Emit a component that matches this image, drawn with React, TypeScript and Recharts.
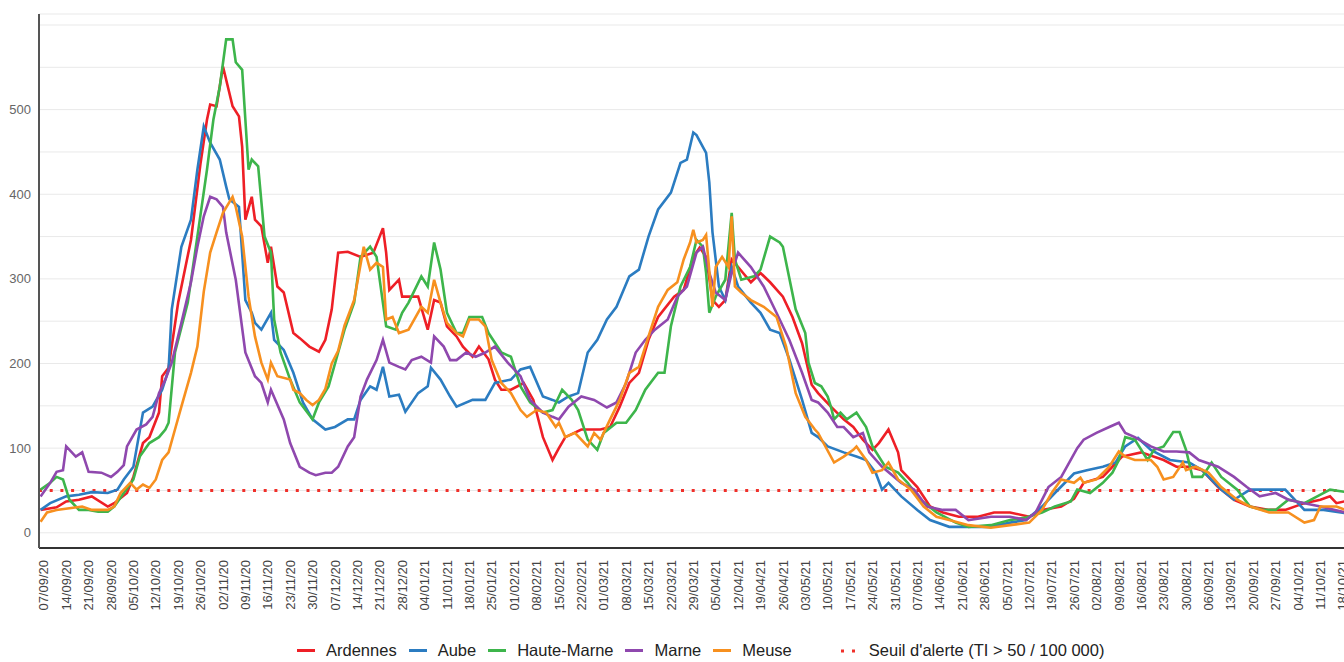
import React from 'react';
import { LineChart, Line, XAxis, YAxis, CartesianGrid, ReferenceLine } from 'recharts';

// Week labels (Mondays), one every 7 days starting 07/09/20 (day 0)
const weekLabels = [
  '07/09/20','14/09/20','21/09/20','28/09/20','05/10/20','12/10/20','19/10/20','26/10/20','02/11/20','09/11/20',
  '16/11/20','23/11/20','30/11/20','07/12/20','14/12/20','21/12/20','28/12/20','04/01/21','11/01/21','18/01/21',
  '25/01/21','01/02/21','08/02/21','15/02/21','22/02/21','01/03/21','08/03/21','15/03/21','22/03/21','29/03/21',
  '05/04/21','12/04/21','19/04/21','26/04/21','03/05/21','10/05/21','17/05/21','24/05/21','31/05/21','07/06/21',
  '14/06/21','21/06/21','28/06/21','05/07/21','12/07/21','19/07/21','26/07/21','02/08/21','09/08/21','16/08/21',
  '23/08/21','30/08/21','06/09/21','13/09/21','20/09/21','27/09/21','04/10/21','11/10/21','18/10/21',
];

const yTicks = [0, 50, 100, 150, 200, 250, 300, 350, 400, 450, 500, 550, 600];
const alertThreshold = 50;

// [day offset from 07/09/20, incidence rate per 100 000]
const ardennes: [number, number][] = [
  [-1,27],[4,30],[7,37],[11,39],[15,43],[20,31],[22,35],[26,47],[28,66],[31,106],[33,113],[36,142],[37,185],[39,195],
  [42,272],[46,346],[49,437],[51,488],[52,506],[54,504],[56,551],[59,504],[61,492],[62,456],[63,370],[65,397],[66,370],
  [68,362],[70,319],[71,338],[73,291],[75,284],[78,236],[80,230],[83,220],[86,214],[88,228],[90,264],[92,331],[95,332],
  [99,326],[103,331],[106,360],[107,331],[108,287],[111,299],[112,279],[117,279],[120,240],[122,275],[124,272],[126,244],
  [129,232],[131,220],[134,208],[136,220],[139,205],[141,181],[143,169],[146,169],[150,177],[153,157],[156,113],[159,86],
  [161,100],[163,113],[168,122],[174,122],[177,125],[180,149],[183,177],[186,189],[189,228],[192,255],[197,279],[200,287],
  [203,326],[205,337],[207,326],[209,275],[211,267],[213,275],[215,323],[217,314],[221,296],[224,307],[227,296],[231,279],
  [234,255],[237,224],[240,175],[242,165],[246,149],[250,134],[253,125],[256,110],[259,98],[261,106],[264,122],[267,95],
  [268,74],[273,54],[277,31],[281,24],[286,19],[292,19],[297,24],[302,24],[308,19],[312,27],[318,31],[322,40],[325,59],
  [331,66],[334,78],[337,90],[343,95],[350,86],[354,78],[358,78],[362,74],[367,54],[372,39],[377,31],[383,27],[388,27],
  [394,35],[399,39],[402,43],[404,35],[409,39],
];

const aube: [number, number][] = [
  [-1,27],[2,35],[7,43],[11,45],[15,48],[20,47],[23,51],[25,63],[28,78],[31,142],[34,149],[37,169],[39,193],[40,264],
  [43,338],[46,370],[48,429],[50,480],[52,461],[55,441],[57,409],[58,394],[61,385],[63,275],[65,260],[66,248],[68,240],
  [71,260],[72,228],[75,216],[78,189],[81,154],[84,134],[88,122],[91,125],[95,134],[97,134],[99,157],[102,173],[104,169],
  [106,196],[108,161],[111,163],[113,143],[117,165],[120,173],[121,195],[124,181],[127,161],[129,149],[134,157],[138,157],
  [141,177],[146,181],[149,193],[152,196],[156,161],[159,157],[161,154],[164,161],[167,165],[170,213],[173,228],[176,252],
  [179,267],[183,303],[186,311],[189,350],[192,382],[196,402],[199,437],[201,441],[203,473],[204,470],[207,449],[208,414],
  [209,355],[211,291],[213,275],[215,314],[217,291],[221,272],[224,260],[227,240],[230,236],[233,205],[237,157],[240,118],
  [242,113],[245,102],[250,95],[254,90],[257,86],[260,71],[262,51],[264,59],[268,43],[273,27],[277,15],[283,7],[289,7],
  [296,7],[302,12],[307,15],[312,31],[316,47],[322,70],[326,74],[331,78],[335,83],[338,102],[342,112],[346,98],[352,86],
  [358,83],[362,74],[368,51],[372,39],[377,51],[383,51],[388,51],[394,27],[400,27],[409,22],
];

const hauteMarne: [number, number][] = [
  [-1,51],[2,59],[4,66],[6,63],[8,39],[11,27],[14,27],[17,25],[20,25],[22,31],[25,47],[28,63],[30,90],[33,106],[36,113],
  [38,122],[39,130],[41,213],[45,272],[48,350],[51,429],[53,488],[55,527],[57,583],[59,583],[60,556],[62,547],[63,488],
  [64,429],[65,441],[67,433],[69,350],[71,331],[72,252],[74,213],[77,181],[80,154],[84,134],[86,154],[89,173],[92,213],
  [94,240],[97,272],[99,326],[102,338],[104,326],[107,244],[110,240],[112,260],[114,272],[118,303],[120,291],[122,343],
  [124,311],[126,260],[129,236],[131,236],[133,255],[137,255],[139,236],[143,213],[146,208],[149,173],[152,154],[156,142],
  [159,145],[162,169],[165,157],[167,145],[170,110],[173,98],[175,118],[179,130],[182,130],[185,145],[188,169],[192,189],
  [194,189],[196,244],[199,291],[202,314],[204,346],[206,338],[207,307],[208,260],[210,279],[213,299],[215,378],[216,323],
  [218,299],[222,303],[224,311],[227,350],[230,343],[231,338],[235,264],[238,236],[239,201],[241,177],[243,173],[245,161],
  [246,149],[247,134],[249,142],[251,134],[254,142],[257,125],[259,102],[263,78],[267,71],[270,59],[274,39],[279,24],
  [285,12],[289,7],[296,9],[302,15],[307,18],[312,24],[316,31],[321,37],[323,51],[327,47],[331,59],[334,71],[336,86],
  [338,113],[341,110],[345,86],[347,98],[350,102],[353,119],[355,119],[357,98],[359,66],[362,66],[365,83],[368,66],
  [373,51],[377,31],[381,27],[385,27],[389,39],[394,35],[398,43],[402,51],[409,47],
];

const marne: [number, number][] = [
  [-1,43],[2,59],[4,72],[6,74],[7,102],[10,90],[12,95],[14,72],[18,71],[21,66],[23,72],[25,80],[26,102],[29,122],[32,128],
  [34,137],[36,165],[38,181],[40,201],[43,248],[46,296],[48,338],[50,374],[52,397],[54,394],[56,385],[57,355],[60,299],
  [63,213],[66,185],[68,177],[70,154],[71,169],[75,134],[77,106],[80,78],[83,71],[85,68],[88,71],[90,71],[92,78],[95,102],
  [97,113],[99,161],[101,181],[104,204],[106,228],[108,201],[111,196],[113,193],[115,204],[118,208],[121,201],[122,232],
  [125,220],[127,204],[129,204],[132,213],[135,208],[138,213],[141,220],[145,201],[149,185],[152,157],[156,142],[159,137],
  [161,134],[164,149],[168,161],[172,157],[176,148],[179,154],[182,177],[185,213],[188,228],[191,240],[195,252],[198,279],
  [201,291],[204,331],[206,338],[208,307],[210,284],[213,275],[215,307],[217,331],[221,314],[225,291],[229,260],[233,228],
  [237,189],[240,157],[242,154],[245,142],[248,125],[250,125],[253,113],[256,118],[258,95],[262,78],[268,59],[272,51],
  [276,31],[281,27],[285,27],[289,15],[296,19],[302,19],[307,15],[310,24],[314,54],[318,66],[323,100],[325,110],[329,118],
  [333,125],[336,130],[338,118],[341,113],[346,102],[350,96],[354,96],[358,95],[361,86],[367,78],[372,66],[376,54],
  [380,43],[385,47],[389,39],[394,35],[399,31],[409,22],
];

const meuse: [number, number][] = [
  [-1,13],[1,24],[4,27],[8,29],[12,31],[15,27],[20,27],[22,31],[24,47],[27,59],[29,51],[31,57],[33,53],[35,63],[37,86],
  [39,95],[41,122],[43,149],[46,189],[48,220],[50,285],[52,331],[54,355],[56,378],[59,397],[60,385],[62,350],[64,279],
  [66,232],[68,201],[70,181],[71,201],[73,185],[77,181],[78,169],[80,165],[82,157],[84,151],[86,157],[88,170],[90,200],
  [92,215],[94,245],[97,275],[100,338],[102,311],[104,319],[106,314],[107,252],[109,255],[111,236],[114,240],[118,267],
  [120,260],[122,299],[124,272],[126,248],[129,236],[131,232],[133,252],[136,252],[138,244],[140,204],[143,177],[146,165],
  [149,145],[151,137],[154,145],[157,142],[160,125],[161,130],[163,113],[166,118],[170,102],[172,118],[174,110],[177,134],
  [180,157],[183,189],[186,196],[189,232],[192,267],[195,287],[198,296],[200,323],[202,343],[203,358],[204,343],[206,346],
  [207,352],[209,267],[210,314],[212,326],[214,314],[215,374],[216,291],[218,284],[221,275],[225,267],[229,255],[232,220],
  [235,165],[238,137],[241,122],[242,118],[247,83],[250,90],[253,98],[254,102],[257,86],[259,71],[262,74],[264,83],
  [267,63],[271,51],[275,31],[279,19],[283,15],[289,9],[296,6],[302,9],[308,12],[312,27],[315,47],[318,63],[322,59],
  [324,65],[325,59],[329,63],[333,78],[336,96],[338,90],[341,86],[346,86],[348,78],[350,63],[353,66],[356,83],[357,74],
  [360,78],[364,71],[368,54],[373,39],[377,31],[383,24],[389,24],[394,12],[397,15],[399,31],[404,31],[409,24],
];

const series = [
  { name: 'Ardennes', color: '#ee1f26', points: ardennes },
  { name: 'Aube', color: '#2b7cc1', points: aube },
  { name: 'Haute-Marne', color: '#3db54b', points: hauteMarne },
  { name: 'Marne', color: '#8f48ae', points: marne },
  { name: 'Meuse', color: '#f7901f', points: meuse },
];

const FONT = '"Liberation Sans", Arial, sans-serif';

const XTick = (props: any) => {
  const { x, y, payload } = props;
  const idx = Math.round(payload.value / 7);
  const label = weekLabels[idx] ?? '';
  const ty = y + 4;
  return (
    <text
      x={x}
      y={ty}
      transform={`rotate(-90 ${x} ${ty})`}
      textAnchor="end"
      dy="0.36em"
      fontSize={13}
      fill="#444"
      fontFamily={FONT}
    >
      {label}
    </text>
  );
};

export default function App() {
  const tickDays = weekLabels.map((_, i) => i * 7);
  return (
    <div
      style={{
        position: 'absolute',
        left: 0,
        top: 0,
        width: 1344,
        height: 662,
        overflow: 'hidden',
        background: '#fff',
        fontFamily: FONT,
      }}
    >
      <LineChart width={1372} height={620} margin={{ top: 14, right: 10, left: 0, bottom: 0 }}>
        <CartesianGrid horizontal vertical={false} stroke="#e9e9e9" strokeWidth={1} />
        <XAxis
          type="number"
          dataKey="d"
          domain={[-1.5, 412]}
          ticks={tickDays}
          interval={0}
          allowDataOverflow
          height={72}
          tick={<XTick />}
          tickLine={false}
          axisLine={{ stroke: '#333', strokeWidth: 2 }}
        />
        <YAxis
          type="number"
          domain={[-18, 613]}
          ticks={yTicks}
          allowDataOverflow
          width={39}
          interval={0}
          tickLine={false}
          axisLine={{ stroke: '#555', strokeWidth: 2 }}
          tick={{ fontSize: 13, fill: '#666', fontFamily: FONT }}
          tickFormatter={(v: number) => (v % 100 === 0 && v <= 500 ? String(v) : '')}
        />
        <ReferenceLine
          y={alertThreshold}
          stroke="#f0302a"
          strokeWidth={3}
          strokeDasharray="3 7.7"
        />
        {series.map((s) => (
          <Line
            key={s.name}
            name={s.name}
            data={s.points.map(([d, v]) => ({ d, v }))}
            dataKey="v"
            type="linear"
            stroke={s.color}
            strokeWidth={2.6}
            dot={false}
            activeDot={false}
            isAnimationActive={false}
          />
        ))}
      </LineChart>
      <div
        style={{
          position: 'absolute',
          top: 641,
          left: 297,
          display: 'flex',
          alignItems: 'center',
          fontSize: 16.5,
          color: '#222',
          whiteSpace: 'nowrap',
        }}
      >
        {series.map((s) => (
          <div key={s.name} style={{ display: 'flex', alignItems: 'center', marginRight: 12 }}>
            <div style={{ width: 18, height: 3, background: s.color, marginRight: 11 }} />
            <span>{s.name}</span>
          </div>
        ))}
        <div style={{ display: 'flex', alignItems: 'center', marginLeft: 36 }}>
          <svg width={18} height={4} style={{ marginRight: 11 }}>
            <line x1={1} y1={2} x2={18} y2={2} stroke="#f0302a" strokeWidth={3} strokeDasharray="3 8" />
          </svg>
          <span>Seuil d'alerte (TI &gt; 50 / 100 000)</span>
        </div>
      </div>
    </div>
  );
}
